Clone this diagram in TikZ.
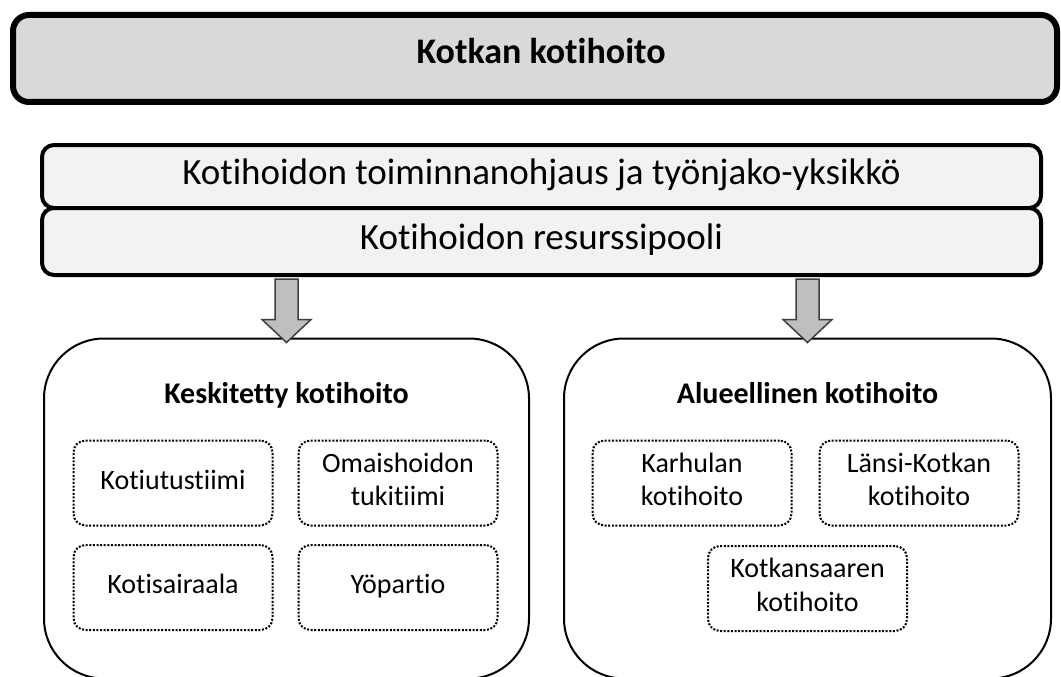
\documentclass[tikz,border=0pt]{standalone}
\usepackage{fontspec}
\setmainfont{Carlito}[Ligatures=NoCommon]
\usetikzlibrary{calc}
\definecolor{bannerfill}{HTML}{D9D9D9}
\definecolor{midfill}{HTML}{F2F2F2}
\definecolor{arrowfill}{HTML}{BFBFBF}
\definecolor{arrowline}{HTML}{3F3F3F}
\newcommand\lnstrut{\rule[-0.25em]{0pt}{0.9em}}
\begin{document}
\begin{tikzpicture}[x=1pt,y=-1pt,
 banner/.style={draw=black, line width=6pt, fill=bannerfill, rounded corners=16pt, minimum width=1044pt, minimum height=87pt, inner sep=0pt},
 bannertext/.style={inner sep=0pt, font=\fontsize{36}{43}\selectfont\bfseries},
 midbox/.style={draw=black, line width=4pt, fill=midfill, rounded corners=12pt, minimum width=999pt, inner sep=0pt, font=\fontsize{37}{44}\selectfont},
 groupbox/.style={draw=black, line width=2pt, rounded corners=60pt, minimum height=340pt, inner sep=0pt},
 heading/.style={font=\fontsize{30}{36}\selectfont\bfseries, inner sep=0pt},
 unitbox/.style={draw=black, line width=2pt, dash pattern=on 2pt off 1.6pt, rounded corners=12pt, minimum width=199pt, minimum height=85pt, inner sep=0pt, align=center, font=\fontsize{28}{33.5}\selectfont},
 barrow/.style={fill=arrowfill, draw=arrowline, line width=1.5pt, line join=miter}
]
\useasboundingbox (0,0) rectangle (1061,677);

\node[banner] (top) at (535,58.5) {};
\node[bannertext] (toptext) at (541,55) {\lnstrut Kotkan kotihoito};

\node[midbox, minimum height=63pt] (ohjaus) at (541.5,176.5) {\lnstrut Kotihoidon toiminnanohjaus ja työnjako-yksikkö};
\node[midbox, minimum height=67pt] (pool) at (541.5,241.5) {\lnstrut Kotihoidon resurssipooli};

\node[groupbox, minimum width=485pt] (kesk) at (286.5,508.5) {};
\node[groupbox, minimum width=487pt] (alue) at (807.5,508.5) {};

\node[heading] (keskh) at (286.5,397) {\lnstrut Keskitetty kotihoito};
\node[heading] (alueh) at (807.5,397) {\lnstrut Alueellinen kotihoito};

\node[unitbox] (kotiutus) at (173,483) {\lnstrut Kotiutustiimi};
\node[unitbox] (omais) at (398,483) {\lnstrut Omaishoidon\\\lnstrut tukitiimi};
\node[unitbox] (sairaala) at (173,587.5) {\lnstrut Kotisairaala};
\node[unitbox] (yo) at (398,587.5) {\lnstrut Yöpartio};

\node[unitbox] (karhula) at (692,483) {\lnstrut Karhulan\\\lnstrut kotihoito};
\node[unitbox] (lansi) at (919,483) {\lnstrut Länsi-Kotkan\\\lnstrut kotihoito};
\node[unitbox] (kotkansaari) at (807.5,588.5) {\lnstrut Kotkansaaren\\\lnstrut kotihoito};

% block arrows from the pool to the two groups
\coordinate (s1) at ($(pool.south -| kesk.north)+(0,2)$);
\coordinate (t1) at ($(kesk.north)+(0,5)$);
\coordinate (s2) at ($(pool.south -| alue.north)+(0,2)$);
\coordinate (t2) at ($(alue.north)+(0,5)$);
\draw[barrow] ($(s1)+(-11.5,0)$) -- ($(t1)+(-11.5,-23)$) -- ($(t1)+(-24.5,-23)$) -- (t1) -- ($(t1)+(24.5,-23)$) -- ($(t1)+(11.5,-23)$) -- ($(s1)+(11.5,0)$) -- cycle;
\draw[barrow] ($(s2)+(-11.5,0)$) -- ($(t2)+(-11.5,-23)$) -- ($(t2)+(-24.5,-23)$) -- (t2) -- ($(t2)+(24.5,-23)$) -- ($(t2)+(11.5,-23)$) -- ($(s2)+(11.5,0)$) -- cycle;
\end{tikzpicture}
\end{document}
